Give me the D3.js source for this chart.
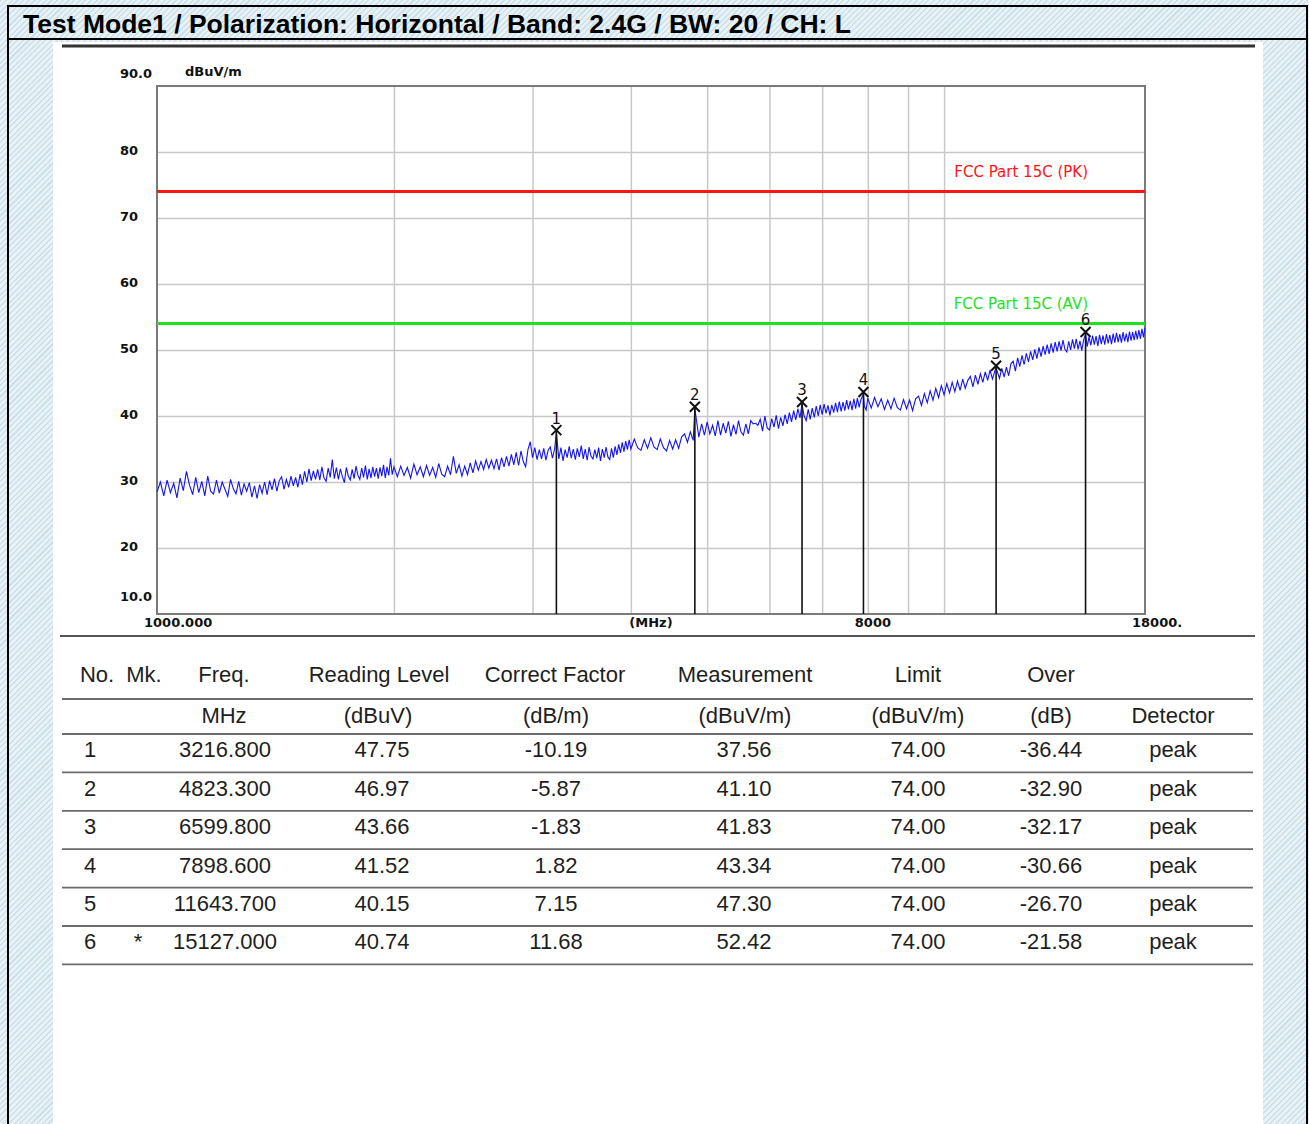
<!DOCTYPE html>
<html>
<head>
<meta charset="utf-8">
<script src="https://cdn.jsdelivr.net/npm/d3@7/dist/d3.min.js"></script>
<style>
  body { margin: 0; background: #dcebf2 repeating-linear-gradient(135deg, #cde1ea 0 1.5px, #e8f2f6 1.5px 4px); }
  svg { display: block; }
</style>
</head>
<body>
<div id="chart"></div>
<script>
// Dados
const titleText = 'Test Mode1 / Polarization: Horizontal / Band: 2.4G / BW: 20 / CH: L';

const yTickValues = [90, 80, 70, 60, 50, 40, 30, 20, 10];
const yTickLabels = ['90.0', '80', '70', '60', '50', '40', '30', '20', '10.0'];
const xTickValues = [1000, 8000, 18000];
const xTickLabels = ['1000.000', '8000', '18000.'];
const gridX = [2000, 3000, 4000, 5000, 6000, 7000, 8000, 9000, 10000];
const gridY = [20, 30, 40, 50, 60, 70, 80];

const limitNames = ['FCC Part 15C (PK)', 'FCC Part 15C (AV)'];
const limitValues = [74, 54];

// Traço do analisador (MHz / dBuV/m)
const traceFreq = [
  1000,1010,1020,1030,1040,1050,1060,1070,1080,1090,
  1100,1110,1120,1130,1140,1150,1160,1170,1180,1190,
  1200,1210,1220,1230,1240,1250,1260,1270,1280,1290,
  1300,1310,1320,1330,1340,1350,1360,1370,1380,1390,
  1400,1410,1420,1430,1440,1450,1460,1470,1480,1490,
  1500,1510,1520,1530,1540,1550,1560,1570,1580,1590,
  1600,1610,1620,1630,1640,1650,1660,1670,1680,1690,
  1700,1710,1720,1730,1740,1750,1760,1770,1780,1790,
  1800,1810,1820,1830,1840,1850,1860,1870,1880,1890,
  1900,1910,1920,1930,1940,1950,1960,1970,1980,1990,
  2000,2020,2040,2060,2080,2100,2120,2140,2160,2180,
  2200,2220,2240,2260,2280,2300,2320,2340,2360,2380,
  2400,2420,2440,2460,2480,2500,2520,2540,2560,2580,
  2600,2620,2640,2660,2680,2700,2720,2740,2760,2780,
  2800,2820,2840,2860,2880,2900,2920,2940,2960,2980,
  3000,3020,3040,3060,3080,3100,3120,3140,3160,3180,
  3200,3216.8,3240,3260,3280,3300,3320,3340,3360,3380,
  3400,3420,3440,3460,3480,3500,3520,3540,3560,3580,
  3600,3620,3640,3660,3680,3700,3720,3740,3760,3780,
  3800,3820,3840,3860,3880,3900,3920,3940,3960,3980,
  4000,4040,4080,4120,4160,4200,4240,4280,4320,4360,
  4400,4440,4480,4520,4560,4600,4640,4680,4720,4760,
  4800,4823.3,4880,4920,4960,5000,5040,5080,5120,5160,
  5200,5240,5280,5320,5360,5400,5440,5480,5520,5560,
  5600,5640,5680,5720,5760,5800,5840,5880,5920,5960,
  6000,6040,6080,6120,6160,6200,6240,6280,6320,6360,
  6400,6440,6480,6520,6560,6599.8,6640,6680,6720,6760,
  6800,6840,6880,6920,6960,7000,7040,7080,7120,7160,
  7200,7240,7280,7320,7360,7400,7440,7480,7520,7560,
  7600,7640,7680,7720,7760,7800,7840,7898.6,7920,7960,
  8000,8080,8160,8240,8320,8400,8480,8560,8640,8720,
  8800,8880,8960,9040,9120,9200,9280,9360,9440,9520,
  9600,9680,9760,9840,9920,10000,10080,10160,10240,10320,
  10400,10480,10560,10640,10720,10800,10880,10960,11040,11120,
  11200,11280,11360,11440,11520,11600,11643.7,11760,11840,11920,
  12000,12080,12160,12240,12320,12400,12480,12560,12640,12720,
  12800,12880,12960,13040,13120,13200,13280,13360,13440,13520,
  13600,13680,13760,13840,13920,14000,14080,14160,14240,14320,
  14400,14480,14560,14640,14720,14800,14880,14960,15040,15127,
  15200,15280,15360,15440,15520,15600,15680,15760,15840,15920,
  16000,16080,16160,16240,16320,16400,16480,16560,16640,16720,
  16800,16880,16960,17040,17120,17200,17280,17360,17440,17520,
  17600,17680,17760,17840,17920,18000
];
const traceLevel = [
  28.5,30.0,27.9,30.3,28.4,29.8,27.6,30.6,28.7,31.6,
  29.5,28.1,30.7,28.4,30.1,27.9,30.9,28.6,28.2,30.3,
  28.3,30.0,28.9,27.8,30.4,29.0,28.2,30.1,28.0,29.7,
  28.6,29.9,27.7,29.4,27.5,29.6,28.3,30.0,28.1,30.2,
  28.8,30.5,28.6,30.2,30.8,28.9,30.4,29.2,30.9,29.4,
  30.7,29.2,31.2,29.6,31.6,30.0,32.0,30.2,31.7,30.4,
  31.9,30.3,32.3,30.6,30.1,32.1,30.7,33.4,30.5,32.2,
  30.4,32.0,30.8,29.9,32.2,30.9,30.3,31.9,30.5,32.4,
  31.0,30.4,32.1,30.7,32.5,30.4,32.0,30.6,32.3,30.8,
  32.1,30.5,32.2,30.9,32.6,30.6,32.3,31.0,33.6,31.1,
  32.3,30.8,32.4,31.0,32.2,30.6,32.7,31.1,32.3,30.8,
  32.5,31.0,32.2,30.7,32.8,31.2,30.8,32.4,31.1,33.9,
  31.3,32.6,30.9,32.4,31.1,32.9,31.4,33.2,31.8,33.1,
  31.9,33.4,32.1,33.3,32.0,33.5,31.8,33.7,32.3,33.9,
  32.4,34.2,32.6,34.5,32.5,34.7,33.1,32.3,34.9,36.1,
  33.7,35.2,33.4,34.9,33.5,35.1,33.3,34.8,35.3,33.6,
  35.0,37.5,33.5,35.2,33.2,34.9,33.7,35.4,33.6,35.0,
  33.4,35.1,33.8,35.5,33.5,35.0,33.3,35.3,33.9,33.5,
  34.9,33.6,35.2,33.2,35.0,33.7,35.3,33.8,33.4,35.1,
  33.7,35.4,34.1,35.7,34.4,36.0,34.6,36.2,34.9,36.4,
  35.0,36.5,35.2,34.8,36.4,35.1,36.7,35.3,34.9,36.5,
  35.2,34.7,36.3,35.0,36.4,35.1,36.8,37.3,36.0,37.6,
  36.3,41.1,36.8,38.8,37.1,39.1,37.3,38.6,37.0,39.3,
  37.1,38.9,37.4,39.2,36.9,38.7,37.2,39.3,37.6,37.1,
  38.8,37.3,39.3,38.8,38.9,38.6,39.5,37.7,40.0,38.2,
  37.9,39.6,38.3,40.1,38.1,39.8,38.5,40.2,38.8,40.5,
  39.1,40.8,39.4,41.1,39.7,41.8,40.0,39.3,41.0,39.5,
  41.2,39.8,41.5,40.0,41.7,40.2,41.8,40.4,41.6,40.1,
  41.7,40.5,42.0,40.6,42.2,40.7,42.1,40.8,42.4,41.0,
  42.3,40.9,42.6,41.1,42.7,41.3,42.5,43.3,41.5,40.9,
  42.7,41.2,42.8,41.4,42.6,41.0,42.4,41.1,42.7,41.3,
  40.9,42.5,41.1,42.4,40.8,42.6,43.0,41.6,43.4,42.0,
  43.8,42.4,44.2,42.8,44.6,43.2,44.9,43.5,45.1,43.7,
  45.3,43.9,45.6,44.2,45.4,46.0,44.4,46.2,44.8,46.4,
  45.1,46.7,45.4,47.0,45.6,46.8,47.3,45.7,47.2,45.9,
  47.4,46.1,47.9,48.3,46.8,48.8,47.5,49.2,47.8,49.5,
  48.2,49.8,48.5,50.1,48.7,50.4,49.0,50.6,49.3,50.8,
  49.4,51.0,49.6,51.2,49.8,51.3,49.9,51.5,50.1,49.7,
  51.3,50.0,51.6,50.2,51.7,50.1,51.4,49.9,51.5,52.4,
  50.5,52.0,50.7,52.2,50.8,52.1,50.6,52.3,50.9,52.2,
  50.8,52.4,51.0,52.3,50.9,52.5,51.1,52.6,51.2,52.4,
  51.1,52.7,51.3,52.5,51.2,52.8,51.4,52.7,51.5,52.9,
  51.6,53.0,51.7,53.2,51.9,53.4
];

// Tabela de marcadores
const markerNo = [1, 2, 3, 4, 5, 6];
const markerMk = ['', '', '', '', '', '*'];
const markerFreq = [3216.800, 4823.300, 6599.800, 7898.600, 11643.700, 15127.000];
const readingLevel = [47.75, 46.97, 43.66, 41.52, 40.15, 40.74];
const correctFactor = [-10.19, -5.87, -1.83, 1.82, 7.15, 11.68];
const measurement = [37.56, 41.10, 41.83, 43.34, 47.30, 52.42];
const limitValue = [74.00, 74.00, 74.00, 74.00, 74.00, 74.00];
const overValue = [-36.44, -32.90, -32.17, -30.66, -26.70, -21.58];
const detector = ['peak', 'peak', 'peak', 'peak', 'peak', 'peak'];

const W = 1309, H = 1124;
const svg = d3.select('#chart').append('svg').attr('width', W).attr('height', H);

// Painel branco e moldura externa
svg.append('rect').attr('x', 53).attr('y', 42).attr('width', 1210).attr('height', H - 42).attr('fill', '#fff');
svg.append('rect').attr('x', 8).attr('y', 6).attr('width', 1299).attr('height', H + 10)
  .attr('fill', 'none').attr('stroke', '#000').attr('stroke-width', 2);
svg.append('line').attr('x1', 8).attr('x2', 1307).attr('y1', 39).attr('y2', 39)
  .attr('stroke', '#000').attr('stroke-width', 2);
svg.append('text').attr('x', 23).attr('y', 33)
  .style('font', 'bold 26.5px "Liberation Sans", Arial, sans-serif')
  .text(titleText);

// linhas da imagem do gráfico
svg.append('line').attr('x1', 62).attr('x2', 1255).attr('y1', 46).attr('y2', 46)
  .attr('stroke', '#333').attr('stroke-width', 3);
svg.append('line').attr('x1', 60).attr('x2', 1255).attr('y1', 636).attr('y2', 636)
  .attr('stroke', '#555').attr('stroke-width', 2);

// Escalas
const x = d3.scaleLog().domain([1000, 18000]).range([157, 1145]);
const y = d3.scaleLinear().domain([10, 90]).range([614, 86]);
const plotW = x(18000) - x(1000);
const plotH = y(10) - y(90);

// Grade
svg.append('g').attr('transform', `translate(0,${y(10)})`)
  .call(d3.axisBottom(x).tickValues(gridX).tickSize(-plotH).tickFormat(''))
  .call(g => g.select('.domain').remove())
  .selectAll('line').attr('stroke', '#c8c8c8').attr('stroke-width', 1.5);
svg.append('g').attr('transform', `translate(${x(1000)},0)`)
  .call(d3.axisLeft(y).tickValues(gridY).tickSize(-plotW).tickFormat(''))
  .call(g => g.select('.domain').remove())
  .selectAll('line').attr('stroke', '#c8c8c8').attr('stroke-width', 1.5);

svg.append('rect').attr('x', x(1000)).attr('y', y(90)).attr('width', plotW).attr('height', plotH)
  .attr('fill', 'none').attr('stroke', '#7a7a7a').attr('stroke-width', 2);

// Rótulos dos eixos
const axisFont = 'bold 13px "DejaVu Sans", sans-serif';
svg.selectAll('.ylab').data(yTickValues).enter().append('text')
  .attr('class', 'ylab')
  .attr('x', 120)
  .attr('y', d => d === 90 ? y(d) - 13 : d === 10 ? y(d) - 18 : y(d) - 2)
  .attr('dy', '0.36em')
  .style('font', axisFont).attr('fill', '#111')
  .text((d, i) => yTickLabels[i]);
svg.append('text').attr('x', 185).attr('y', 71).attr('dy', '0.36em')
  .style('font', axisFont).attr('fill', '#111').text('dBuV/m');

svg.selectAll('.xlab').data(xTickValues).enter().append('text')
  .attr('class', 'xlab')
  .attr('x', d => x(d) - 13)
  .attr('y', 622).attr('dy', '0.36em')
  .style('font', axisFont).attr('fill', '#111')
  .text((d, i) => xTickLabels[i]);
svg.append('text').attr('x', (x(1000) + x(18000)) / 2).attr('y', 622).attr('dy', '0.36em')
  .attr('text-anchor', 'middle')
  .style('font', axisFont).attr('fill', '#111').text('(MHz)');

// Limites
const limitColors = ['#ff1515', '#1ee21e'];
limitValues.forEach((v, i) => {
  svg.append('line').attr('x1', x(1000)).attr('x2', x(18000)).attr('y1', y(v)).attr('y2', y(v))
    .attr('stroke', limitColors[i]).attr('stroke-width', 3);
  svg.append('text').attr('x', 1088).attr('y', y(v) - 15)
    .attr('text-anchor', 'end')
    .style('font', '15px "DejaVu Sans", sans-serif')
    .attr('fill', limitColors[i])
    .text(limitNames[i]);
});

// Traço
const trace = traceFreq.map((f, i) => ({ f, v: traceLevel[i] }));
const line = d3.line().x(d => x(d.f)).y(d => y(d.v));
svg.append('path').datum(trace)
  .attr('d', line).attr('fill', 'none')
  .attr('stroke', '#1414f0').attr('stroke-width', 1.1);

// Marcadores
const mk = svg.selectAll('.marker').data(markerFreq).enter().append('g')
  .attr('class', 'marker')
  .attr('transform', (d, i) => `translate(${x(d)},${y(measurement[i]) - 2})`);
mk.append('line').attr('x1', 0).attr('x2', 0).attr('y1', 0)
  .attr('y2', (d, i) => y(10) - y(measurement[i]) + 2)
  .attr('stroke', '#111').attr('stroke-width', 1.6);
mk.append('path').attr('d', 'M-5,-5L5,5M5,-5L-5,5')
  .attr('stroke', '#111').attr('stroke-width', 2).attr('fill', 'none');
mk.append('text').attr('y', -12).attr('dy', '0.36em').attr('text-anchor', 'middle')
  .style('font', '15px "DejaVu Sans", sans-serif').attr('fill', '#111')
  .text((d, i) => markerNo[i]);

// Tabela
const tFont = '22px "Liberation Sans", Arial, sans-serif';
const tColor = '#1e1e1e';
const header1 = [['No.', 97], ['Mk.', 144], ['Freq.', 224], ['Reading Level', 379], ['Correct Factor', 555],
  ['Measurement', 745], ['Limit', 918], ['Over', 1051]];
const header2 = [['MHz', 224], ['(dBuV)', 378], ['(dB/m)', 556], ['(dBuV/m)', 745], ['(dBuV/m)', 918],
  ['(dB)', 1051], ['Detector', 1173]];
const table = svg.append('g');
header1.forEach(([t, cx]) => table.append('text').attr('x', cx).attr('y', 674).attr('dy', '0.36em')
  .attr('text-anchor', 'middle').style('font', tFont).attr('fill', tColor).text(t));
header2.forEach(([t, cx]) => table.append('text').attr('x', cx).attr('y', 715).attr('dy', '0.36em')
  .attr('text-anchor', 'middle').style('font', tFont).attr('fill', tColor).text(t));

const lineYs = [699, 734];
const rowTop = i => 734 + 38.4 * i;
markerNo.forEach((d, i) => lineYs.push(rowTop(i + 1)));
lineYs.forEach(ly => table.append('line').attr('x1', 62).attr('x2', 1253).attr('y1', ly).attr('y2', ly)
  .attr('stroke', '#6a6a6a').attr('stroke-width', 1.8));

const cols = [
  { x: 90, get: i => markerNo[i] },
  { x: 138, get: i => markerMk[i] },
  { x: 225, get: i => markerFreq[i].toFixed(3) },
  { x: 382, get: i => readingLevel[i].toFixed(2) },
  { x: 556, get: i => correctFactor[i].toFixed(2) },
  { x: 744, get: i => measurement[i].toFixed(2) },
  { x: 918, get: i => limitValue[i].toFixed(2) },
  { x: 1051, get: i => overValue[i].toFixed(2) },
  { x: 1173, get: i => detector[i] }
];
markerNo.forEach((d, i) => {
  cols.forEach(c => table.append('text').attr('x', c.x).attr('y', rowTop(i) + 15.5).attr('dy', '0.36em')
    .attr('text-anchor', 'middle').style('font', tFont).attr('fill', tColor).text(c.get(i)));
});
</script>
</body>
</html>
